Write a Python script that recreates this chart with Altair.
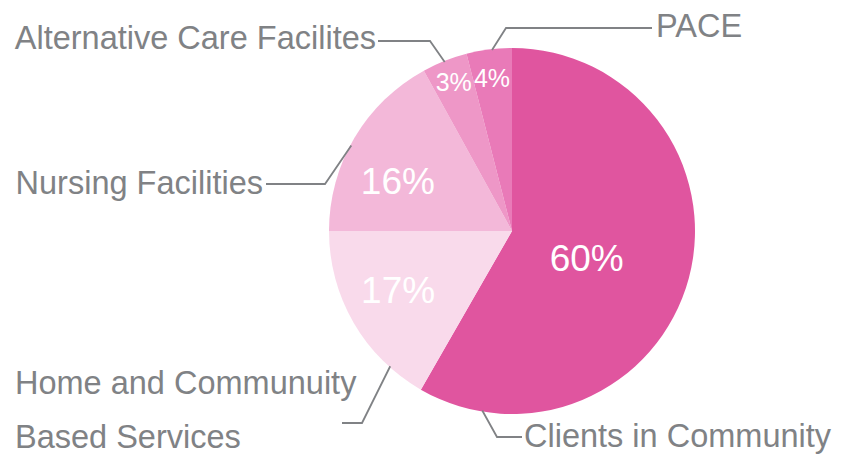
import math
import altair as alt
import pandas as pd

# ---- data -------------------------------------------------------------
categories = ["Clients in Community", "Home and Community Based Services",
              "Nursing Facilities", "Alternative Care Facilites", "PACE"]
pct_labels = ["60%", "17%", "16%", "3%", "4%"]
shares = [58.3, 16.7, 17.0, 4.0, 4.0]          # drawn slice sizes
colors = ["#E0559F", "#F9DAEB", "#F3B8D9", "#EE97C7", "#E97AB8"]

# outside label text lines (one category may span two lines)
label_lines = [["Clients in Community"],
               ["Home and Communuity", "Based Services"],
               ["Nursing Facilities"],
               ["Alternative Care Facilites"],
               ["PACE"]]

# ---- layout (page pixel coordinates) ----------------------------------
W, H = 832, 451
CX, CY, R = 512, 231, 183
FONT = "Liberation Sans, Arial, sans-serif"
GRAY = "#808285"
LABEL_SIZE = 32.5

pct_angle = [111, 242, 293, 338.5, 352.5]
pct_radius = [80, 129, 124, 159, 153]
pct_size = [37, 37, 37, 25, 25]

anchor_angle = [189.4, 222, 298, 338.3, 353.7]
elbow = [(497, 437), (362, 423), (325, 184), (430, 41), (506, 28)]
line_end_x = [522, 342, 266, 378, 652]
label_x = [524, 15, 263, 376, 656]
label_align = ["left", "left", "right", "right", "left"]
label_base = [[447], [394, 448], [194], [49], [37]]

# ---- tables -----------------------------------------------------------
pie_df = pd.DataFrame({"cat": categories, "share": shares,
                       "idx": list(range(len(categories)))})

pct_rows = []
for i, t in enumerate(pct_labels):
    a = math.radians(pct_angle[i])
    pct_rows.append({"t": t, "x": CX + pct_radius[i] * math.sin(a),
                     "y": CY - pct_radius[i] * math.cos(a), "s": pct_size[i]})
pct_df = pd.DataFrame(pct_rows)

lead_rows = []
for i, c in enumerate(categories):
    a = math.radians(anchor_angle[i])
    pts = [(CX + (R - 1) * math.sin(a), CY - (R - 1) * math.cos(a)),
           elbow[i], (line_end_x[i], elbow[i][1])]
    for k, (px, py) in enumerate(pts):
        lead_rows.append({"cat": c, "k": k, "x": px, "y": py})
lead_df = pd.DataFrame(lead_rows)

lab_rows = []
for i, lines in enumerate(label_lines):
    for j, ln in enumerate(lines):
        lab_rows.append({"t": ln, "x": label_x[i], "y": label_base[i][j],
                         "al": label_align[i]})
lab_df = pd.DataFrame(lab_rows)

xs = alt.Scale(domain=[8, 8 + W], nice=False, zero=False)
ys = alt.Scale(domain=[8, 8 + H], nice=False, zero=False, reverse=True)

pie = alt.Chart(pie_df).mark_arc(radius=R, strokeWidth=0).encode(
    theta=alt.Theta("share:Q", stack=True),
    order=alt.Order("idx:Q"),
    color=alt.Color("cat:N", scale=alt.Scale(domain=categories, range=colors),
                    legend=None),
    x=alt.value(CX - 8), y=alt.value(CY - 8),
)

pct = alt.Chart(pct_df).mark_text(font=FONT, color="white", align="center",
                                  baseline="middle").encode(
    x=alt.X("x:Q", scale=xs, axis=None),
    y=alt.Y("y:Q", scale=ys, axis=None),
    text="t:N",
    size=alt.Size("s:Q", scale=None, legend=None),
)

leads = alt.Chart(lead_df).mark_line(color=GRAY, strokeWidth=1.8).encode(
    x=alt.X("x:Q", scale=xs, axis=None),
    y=alt.Y("y:Q", scale=ys, axis=None),
    detail="cat:N",
    order="k:Q",
)

left_labels = alt.Chart(lab_df[lab_df.al == "left"]).mark_text(
    font=FONT, fontSize=LABEL_SIZE, color=GRAY, align="left", baseline="alphabetic"
).encode(x=alt.X("x:Q", scale=xs, axis=None),
         y=alt.Y("y:Q", scale=ys, axis=None), text="t:N")

right_labels = alt.Chart(lab_df[lab_df.al == "right"]).mark_text(
    font=FONT, fontSize=LABEL_SIZE, color=GRAY, align="right", baseline="alphabetic"
).encode(x=alt.X("x:Q", scale=xs, axis=None),
         y=alt.Y("y:Q", scale=ys, axis=None), text="t:N")

chart = alt.layer(pie, leads, pct, left_labels, right_labels).properties(
    width=W, height=H, padding=0,
    autosize=alt.AutoSizeParams(type="none"),
).configure_view(strokeWidth=0, stroke="transparent").configure_axis(
    domain=False, grid=False, ticks=False, labels=False
)

chart.save("out.html", embed_options={"renderer": "svg", "actions": False})
